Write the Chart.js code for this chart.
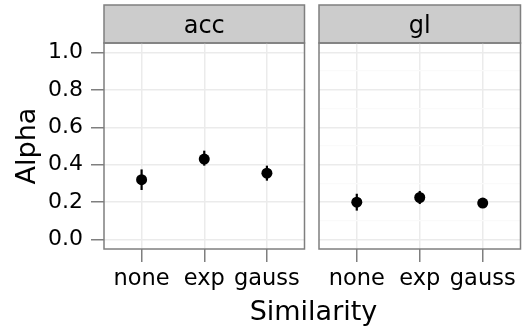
<!DOCTYPE html>
<html>
<head>
<meta charset="utf-8">
<script src="https://cdn.jsdelivr.net/npm/chart.js@4.4.1/dist/chart.umd.min.js"></script>
<style>
  body { margin: 0; background: #fff; }
  #wrap { position: relative; width: 526px; height: 334px; font-family: "DejaVu Sans", sans-serif; }
  #acc-box { position: absolute; left: 0; top: 0; width: 310px; height: 334px; }
  #gl-box { position: absolute; left: 310px; top: 0; width: 216px; height: 334px; }
  #xtitle { position: absolute; left: 104px; width: 419px; top: 297px; text-align: center;
            font-size: 27px; line-height: 27px; color: #000; }
</style>
</head>
<body>
<div id="wrap">
  <div id="acc-box"><canvas id="acc-canvas" width="310" height="334"></canvas></div>
  <div id="gl-box"><canvas id="gl-canvas" width="216" height="334"></canvas></div>
  <div id="xtitle">Similarity</div>
</div>
<script>
const similarity = ['none', 'exp', 'gauss'];

const acc_alpha = [0.32, 0.43, 0.355];
const acc_lower = [0.265, 0.395, 0.315];
const acc_upper = [0.375, 0.475, 0.395];

const gl_alpha = [0.20, 0.225, 0.195];
const gl_lower = [0.155, 0.19, 0.17];
const gl_upper = [0.245, 0.26, 0.22];

const y_major = [0, 0.2, 0.4, 0.6, 0.8, 1.0];
const y_minor = [0.1, 0.3, 0.5, 0.7, 0.9];

const FONT = '"DejaVu Sans", sans-serif';
const GREY50 = '#7f7f7f';

function is_major(v) {
    return y_major.some(m => Math.abs(m - v) < 1e-6);
}

// grey strip with the facet name, plus the panel border
const panel_plugin = {
    id: 'panel',
    beforeDraw(chart, args, opts) {
        const a = chart.chartArea;
        const ctx = chart.ctx;
        ctx.save();
        ctx.fillStyle = '#cccccc';
        ctx.fillRect(a.left, 5, a.right - a.left, a.top - 5);
        ctx.strokeStyle = GREY50;
        ctx.lineWidth = 1.5;
        ctx.strokeRect(a.left, 5, a.right - a.left, a.top - 5);
        ctx.fillStyle = '#000';
        ctx.font = '24px ' + FONT;
        ctx.textAlign = 'center';
        ctx.textBaseline = 'alphabetic';
        ctx.fillText(opts.label, (a.left + a.right) / 2, 33);
        ctx.restore();
    },
    afterDraw(chart) {
        const a = chart.chartArea;
        const ctx = chart.ctx;
        ctx.save();
        ctx.strokeStyle = GREY50;
        ctx.lineWidth = 1.5;
        ctx.strokeRect(a.left, a.top, a.right - a.left, a.bottom - a.top);
        ctx.restore();
    }
};

// vertical range lines behind the points
const errorbar_plugin = {
    id: 'errorbars',
    beforeDatasetsDraw(chart, args, opts) {
        const ctx = chart.ctx;
        const x = chart.scales.x;
        const y = chart.scales.y;
        ctx.save();
        ctx.strokeStyle = '#000';
        ctx.lineWidth = 2.2;
        opts.lower.forEach((lo, i) => {
            const px = x.getPixelForValue(i + 1);
            ctx.beginPath();
            ctx.moveTo(px, y.getPixelForValue(lo));
            ctx.lineTo(px, y.getPixelForValue(opts.upper[i]));
            ctx.stroke();
        });
        ctx.restore();
    }
};

function make_panel(canvas_id, label, alpha, lower, upper, show_y, padding) {
    const ctx = document.getElementById(canvas_id).getContext('2d');
    const y_ticks = y_major.concat(y_minor).sort((a, b) => a - b);

    const y_scale = {
        type: 'linear',
        min: -0.05,
        max: 1.05,
        afterBuildTicks: s => { s.ticks = y_ticks.map(v => ({ value: v })); },
        border: { display: false },
        grid: {
            color: c => is_major(c.tick.value) ? '#ebebeb' : '#fafafa',
            lineWidth: c => is_major(c.tick.value) ? 1.5 : 1.2,
            drawTicks: show_y,
            tickLength: 13,
            tickWidth: 1.5,
            tickColor: c => is_major(c.tick.value) ? GREY50 : 'rgba(0,0,0,0)'
        },
        ticks: {
            display: show_y,
            color: '#000',
            font: { family: FONT, size: 22 },
            padding: 8,
            callback: v => is_major(v) ? v.toFixed(1) : ''
        },
        title: {
            display: show_y,
            text: 'Alpha',
            color: '#000',
            font: { family: FONT, size: 27, lineHeight: 1 },
            padding: { top: 14, bottom: 0 }
        },
        afterFit: s => { s.width = show_y ? 104 : 0; }
    };

    return new Chart(ctx, {
        type: 'scatter',
        data: {
            datasets: [{
                data: alpha.map((v, i) => ({ x: i + 1, y: v })),
                showLine: false,
                pointRadius: 5.5,
                pointBorderWidth: 0,
                backgroundColor: '#000',
                borderColor: '#000'
            }]
        },
        options: {
            responsive: false,
            animation: false,
            layout: { padding: padding },
            plugins: {
                legend: { display: false },
                tooltip: { enabled: false },
                panel: { label: label },
                errorbars: { lower: lower, upper: upper }
            },
            scales: {
                x: {
                    type: 'linear',
                    min: 0.4,
                    max: 3.6,
                    afterBuildTicks: s => { s.ticks = similarity.map((c, i) => ({ value: i + 1 })); },
                    border: { display: false },
                    grid: {
                        color: '#ebebeb',
                        lineWidth: 1.5,
                        tickLength: 13,
                        tickWidth: 1.5,
                        tickColor: GREY50
                    },
                    ticks: {
                        color: '#000',
                        font: { family: FONT, size: 22.5 },
                        padding: 4,
                        maxRotation: 0,
                        autoSkip: false,
                        callback: (v, i) => similarity[i]
                    },
                    afterFit: s => { s.height = 85; }
                },
                y: y_scale
            }
        },
        plugins: [panel_plugin, errorbar_plugin]
    });
}

make_panel('acc-canvas', 'acc', acc_alpha, acc_lower, acc_upper, true,
    { left: 0, right: 3, top: 43, bottom: 0 });
make_panel('gl-canvas', 'gl', gl_alpha, gl_lower, gl_upper, false,
    { left: 9, right: 3, top: 43, bottom: 0 });
</script>
</body>
</html>
